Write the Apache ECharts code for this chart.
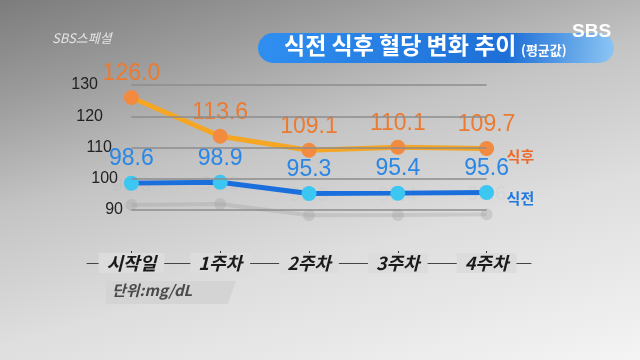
<!DOCTYPE html>
<html><head><meta charset="utf-8">
<script src="https://cdn.jsdelivr.net/npm/echarts@6/dist/echarts.min.js"></script>
<style>
html,body{margin:0;padding:0;width:640px;height:360px;overflow:hidden;}
body{background:linear-gradient(165deg,#7c7c7c 0%,#9a9a9a 18%,#c4c4c4 40%,#dedede 65%,#f4f4f4 100%);}
#c{width:640px;height:360px;}
</style></head><body>
<div id="c"></div>
<script>
var categories = ['시작일', '1주차', '2주차', '3주차', '4주차'];
var afterMeal = [126.0, 113.6, 109.1, 110.1, 109.7];
var beforeMeal = [98.6, 98.9, 95.3, 95.4, 95.6];
var yTicks = [90, 100, 110, 120, 130];
var seriesNames = ['식후', '식전'];

var chart = echarts.init(document.getElementById('c'));
var font = 'Liberation Sans, Arial, sans-serif';
var kfont = 'Noto Sans CJK KR, sans-serif';
var yPad = {130: 25, 120: 20, 110: 11, 100: 5, 90: 0};
var rich = {};
yTicks.forEach(function (t) {
  rich['t' + t] = {color: '#222', fontSize: 16, fontFamily: font, padding: [0, yPad[t], 0, 0]};
});
var gridLines = yTicks.map(function (t) {
  return [{coord: [categories[0], t]}, {coord: [categories[categories.length - 1], t]}];
});
function fmt(p) { return p.value.toFixed(1); }

chart.setOption({
  backgroundColor: 'transparent',
  animation: false,
  grid: {left: 87, right: 109, top: 85, bottom: 150},
  xAxis: {
    type: 'category', data: categories, boundaryGap: true, offset: 53,
    axisLine: {show: true, lineStyle: {color: '#444', width: 1}},
    axisTick: {show: true, inside: true, length: 12, alignWithLabel: true, lineStyle: {color: '#333'}},
    axisLabel: {
      margin: 0, verticalAlign: 'middle', color: '#1a1a1a', fontFamily: kfont,
      fontSize: 18, fontWeight: 'bold', fontStyle: 'italic',
      backgroundColor: '#dcdcdc', padding: [1, 8, 1, 8]
    }
  },
  yAxis: [{
    type: 'value', min: yTicks[0], max: yTicks[yTicks.length - 1], interval: 10,
    axisLine: {show: false}, axisTick: {show: false},
    axisLabel: {margin: -36, formatter: function (v) { return '{t' + v + '|' + v + '}'; }, rich: rich},
    splitLine: {show: false}
  }, {
    type: 'value', min: yTicks[0] + 7, max: yTicks[yTicks.length - 1] + 7, show: false
  }],
  graphic: [
    {type: 'rect', shape: {x: 258, y: 33, width: 356, height: 30, r: 15},
     style: {fill: {type: 'linear', x: 0, y: 0, x2: 1, y2: 1, colorStops: [
       {offset: 0, color: '#2f8ff0'}, {offset: 0.7, color: '#1e6fd6'}, {offset: 1, color: '#8cc6f4'}]}}},
    {type: 'text', left: 284, top: 34, style: {text: '식전 식후 혈당 변화 추이', fill: '#fff', font: 'bold 23px Noto Sans CJK KR'}},
    {type: 'text', left: 521, top: 44, style: {text: '(평균값)', fill: '#fff', font: 'bold 13px Noto Sans CJK KR'}},
    {type: 'text', left: 572, top: 22, style: {text: 'SBS', fill: '#fff', font: 'bold 19px Liberation Sans'}},
    {type: 'text', left: 52, top: 32, style: {text: 'SBS스페셜', fill: '#e4e4e4', font: 'italic 13px Noto Sans CJK KR'}},
    {type: 'polygon', shape: {points: [[106, 281], [236, 281], [228, 304], [106, 304]]}, style: {fill: '#d4d4d4'}},
    {type: 'text', left: 112, top: 283, style: {text: '단위:mg/dL', fill: '#4a4a4a', font: 'italic bold 15px Noto Sans CJK KR'}}
  ],
  series: [{
    name: 'ghost', type: 'line', data: beforeMeal, yAxisIndex: 1, z: 1, silent: true, clip: false,
    lineStyle: {color: '#9a9a9a', width: 4, opacity: 0.3},
    itemStyle: {color: '#9a9a9a', opacity: 0.3}, symbolSize: 12, symbol: 'circle',
    label: {show: true, position: 'top', distance: 4, color: 'rgba(150,150,150,0.3)', fontSize: 20, fontFamily: font, formatter: fmt}
  }, {
    name: 'grid', type: 'line', data: [], z: 0, silent: true,
    markLine: {silent: true, symbol: 'none', label: {show: false},
      lineStyle: {type: 'solid', color: '#8c8c8c', width: 1.5}, data: gridLines}
  }, {
    name: seriesNames[0], type: 'line', data: afterMeal, z: 3,
    lineStyle: {color: '#f5a623', width: 5},
    itemStyle: {color: '#f28a40'}, symbol: 'circle', symbolSize: 15,
    label: {show: true, position: 'top', distance: 5, color: '#ec7a30', fontSize: 23, fontFamily: font, formatter: fmt},
    endLabel: {show: true, formatter: '{a}', color: '#ec6a2a', fontSize: 15, fontWeight: 'bold', fontFamily: kfont, distance: 20, offset: [0, 8]}
  }, {
    name: seriesNames[1], type: 'line', data: beforeMeal, z: 3,
    lineStyle: {color: '#1a6fdc', width: 5},
    itemStyle: {color: '#3cc6f2'}, symbol: 'circle', symbolSize: 15,
    label: {show: true, position: 'top', distance: 5, color: '#2a86e4', fontSize: 23, fontFamily: font, formatter: fmt},
    endLabel: {show: true, formatter: '{a}', color: '#1e78e0', fontSize: 15, fontWeight: 'bold', fontFamily: kfont, distance: 20, offset: [0, 6]}
  }]
});
</script>
</body></html>
